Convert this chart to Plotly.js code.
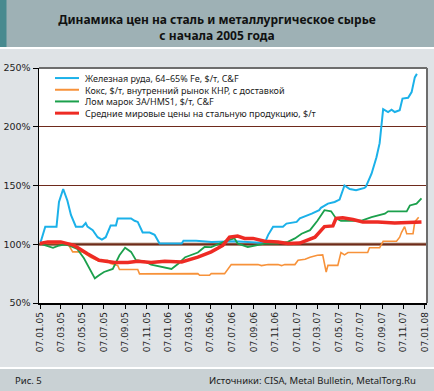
<!DOCTYPE html>
<html><head><meta charset="utf-8">
<script src="https://cdn.plot.ly/plotly-3.0.1.min.js"></script>
<style>html,body{margin:0;padding:0;background:#dfe3e6;}#chart{width:434px;height:391px;}</style>
</head><body><div id="chart"></div>
<script>
// ---- data ----
const oreDates = ['2005-01-07','2005-01-10','2005-01-22','2005-02-23','2005-03-02','2005-03-14','2005-03-26','2005-04-05','2005-04-19','2005-05-08','2005-05-17','2005-05-22','2005-06-06','2005-06-20','2005-07-02','2005-07-13','2005-07-27','2005-08-11','2005-08-16','2005-09-23','2005-10-03','2005-10-12','2005-10-26','2005-11-15','2005-11-29','2005-12-13','2006-02-14','2006-02-19','2006-03-27','2006-05-10','2006-07-15','2006-10-08','2006-10-18','2006-11-01','2006-11-29','2006-12-09','2007-01-07','2007-01-16','2007-02-19','2007-03-12','2007-03-17','2007-04-06','2007-04-25','2007-05-09','2007-05-23','2007-06-07','2007-06-25','2007-07-19','2007-07-23','2007-08-08','2007-08-22','2007-08-31','2007-09-10','2007-09-24','2007-10-04','2007-10-13','2007-10-27','2007-11-04','2007-11-20','2007-11-30','2007-12-09','2007-12-15'];
const oreValues = [102,103,115,115,136,147,137,125,115,115,118,115,112,106,104,106,116,116,122,122,120,119,110,110,108,100.6,100.6,103,103,102,102.5,101,108,115,115,117.6,119,122,126,129,131,134.6,136,138,150,147,146,148,149,160,174,186,215,212.5,214.5,212.5,214,224,224.7,229.5,242,245];

const cokeDates = ['2005-01-07','2005-03-21','2005-03-30','2005-04-10','2005-05-08','2005-05-22','2005-05-31','2005-06-24','2005-07-18','2005-07-27','2005-08-16','2005-08-21','2005-10-12','2005-10-17','2006-04-01','2006-04-06','2006-05-04','2006-05-09','2006-06-16','2006-07-05','2006-09-19','2006-09-29','2006-10-18','2006-11-15','2006-11-25','2006-12-04','2007-01-02','2007-01-11','2007-01-31','2007-02-14','2007-03-07','2007-03-22','2007-04-01','2007-04-06','2007-05-04','2007-05-13','2007-05-23','2007-06-02','2007-07-28','2007-08-02','2007-08-31','2007-09-10','2007-10-18','2007-10-27','2007-11-01','2007-11-10','2007-11-16','2007-12-04','2007-12-09','2007-12-20'];
const cokeValues = [100.6,100.6,99,93.5,93.5,90.6,89,85.5,86.4,83.6,82,78.5,78.5,74.8,75,73.6,73.6,75,75,82.7,82.7,81.8,82.7,82.7,81.8,82.7,82.7,86.4,87.2,89,90.6,91,76.4,82,82,93,91,93,93,97,97,102.5,102.5,106,110,115,109,109,119,123];

const scrapDates = ['2005-01-07','2005-01-29','2005-02-13','2005-02-27','2005-03-16','2005-03-30','2005-04-23','2005-05-12','2005-05-31','2005-06-12','2005-06-24','2005-07-08','2005-08-02','2005-08-11','2005-08-21','2005-09-06','2005-09-23','2005-10-07','2005-10-31','2005-11-19','2005-12-17','2006-01-16','2006-02-05','2006-02-24','2006-04-01','2006-04-20','2006-05-09','2006-05-27','2006-06-21','2006-07-14','2006-07-23','2006-08-21','2006-09-10','2006-10-08','2006-11-15','2006-12-13','2007-01-02','2007-01-21','2007-02-14','2007-03-07','2007-03-27','2007-04-15','2007-04-29','2007-05-13','2007-07-09','2007-08-08','2007-09-15','2007-09-24','2007-11-16','2007-11-25','2007-12-14','2007-12-28'];
const scrapValues = [100.6,98.6,97,98.6,99.7,99,96,88,78,71,73.6,76.4,79,85,90.6,97,93.5,86.4,85.5,82.7,80.7,79,83.6,89,93,97.7,97.5,99.7,103,105,100.6,97.7,99,100.6,100.6,102,105,109,112,120,129,128,122,120,120,123,126,128,128,133,134.6,139];

const steelDates = ['2005-01-07','2005-01-29','2005-03-07','2005-04-14','2005-05-22','2005-06-10','2005-06-24','2005-08-07','2005-09-14','2005-10-12','2005-11-19','2005-12-28','2006-01-20','2006-02-14','2006-04-01','2006-05-09','2006-06-11','2006-06-30','2006-07-23','2006-08-12','2006-09-05','2006-10-08','2006-11-15','2006-12-13','2007-01-16','2007-01-31','2007-02-28','2007-03-27','2007-04-20','2007-04-29','2007-05-18','2007-06-16','2007-07-14','2007-08-26','2007-10-13','2007-12-28'];
const steelValues = [100.6,102,102,99,92,89,86.4,84.4,84.4,85.5,84.4,85.5,85,85,89,93.5,99,106,107,105,105,102.5,102,100.6,101,103,106,115,115.6,122,122.5,121,119,119,118,119];

const seriesNames = ['Железная руда, 64–65% Fe, $/т, C&F','Кокс, $/т, внутренний рынок КНР, с доставкой','Лом марок 3А/HMS1, $/т, C&F','Средние мировые цены на стальную продукцию, $/т'];
const yTicks = [50,100,150,200,250];
const yTickLabels = ['50%','100%','150%','200%','250%'];
const titleText = 'Динамика цен на сталь и металлургическое сырье<br>с начала 2005 года';
const figLabel = 'Рис. 5';
const sourceText = 'Источники: CISA, Metal Bulletin, MetalTorg.Ru';

// ---- styles ----
const colors = ['#1bb1e9','#f7923a','#1ba04c','#ee2b24'];
const widths = [2,1.6,1.8,3.5];
const W = 434, H = 391, L = 39, R = 7, T = 68, B = 88;
const pw = W - L - R, ph = H - T - B;
const px = x => (x - L) / pw;
const py = y => (H - B - y) / ph;

const traces = [
  {x: oreDates, y: oreValues}, {x: cokeDates, y: cokeValues},
  {x: scrapDates, y: scrapValues}, {x: steelDates, y: steelValues}
].map((d, i) => ({x: d.x, y: d.y, type: 'scatter', mode: 'lines', name: seriesNames[i],
  line: {color: colors[i], width: widths[i], shape: 'linear'}, hoverinfo: 'skip'}));

const legFont = 9, legStep = legFont * 1.3, legCenter = 95.6;
const legRowsY = [0,1,2,3].map(k => legCenter + (k - 1.5) * legStep);
const shapes = [
  {type:'rect', xref:'paper', yref:'paper', x0:-1, x1:2, y0:py(47), y1:2, fillcolor:'#9eb1b5', line:{width:0}, layer:'below'},
  {type:'rect', xref:'paper', yref:'paper', x0:-1, x1:px(6.5), y0:py(47), y1:2, fillcolor:'#488a8f', line:{width:0}, layer:'below'},
  {type:'rect', xref:'paper', yref:'paper', x0:-1, x1:2, y0:py(49), y1:py(47), fillcolor:'#ffffff', line:{width:0}, layer:'below'},
  {type:'rect', xref:'paper', yref:'paper', x0:-1, x1:2, y0:py(369), y1:py(367), fillcolor:'#ffffff', line:{width:0}, layer:'below'},
  {type:'rect', xref:'paper', yref:'paper', x0:-1, x1:2, y0:-2, y1:py(369), fillcolor:'#c9d1d4', line:{width:0}, layer:'below'},
  {type:'line', xref:'paper', yref:'y', x0:0, x1:1, y0:100, y1:100, line:{color:'#8b5a45', width:3}, layer:'below'},
  {type:'line', xref:'paper', yref:'paper', x0:0, x1:1, y0:1, y1:1, line:{color:'#6d6d6d', width:2}, layer:'above'},
  {type:'line', xref:'paper', yref:'paper', x0:1, x1:1, y0:0, y1:1, line:{color:'#6d6d6d', width:2}, layer:'above'}
];
legRowsY.forEach((yy, i) => {
  shapes.push({type:'line', xref:'paper', yref:'paper', x0:px(55), x1:px(79), y0:py(yy), y1:py(yy),
    line:{color:colors[i], width: i===3 ? 3 : 2}, layer:'above'});
});
const annotations = [
  {xref:'paper', yref:'paper', x:px(83.5), y:py(legCenter), xanchor:'left', yanchor:'middle', align:'left',
    text: seriesNames.join('<br>'), showarrow:false, borderpad:0, font:{family:'Noto Sans', size:legFont, color:'#1a1a1a'}},
  {xref:'paper', yref:'paper', x:px(13), y:py(380), xanchor:'left', yanchor:'middle',
    text: figLabel, showarrow:false, font:{family:'Noto Sans', size:9.5, color:'#1a1a1a'}},
  {xref:'paper', yref:'paper', x:px(418), y:py(380), xanchor:'right', yanchor:'middle',
    text: sourceText, showarrow:false, font:{family:'Noto Sans', size:9.5, color:'#1a1a1a'}}
];

const layout = {
  width: W, height: H,
  margin: {l: L, r: R, t: T, b: B, pad: 0},
  paper_bgcolor: '#dfe3e6', plot_bgcolor: '#ffffff',
  showlegend: false,
  title: {text: titleText, x: 0.5, xanchor: 'center', xref: 'container', y: 1 - 24/391, yref: 'container', yanchor: 'middle',
    font: {family: 'Noto Sans', size: 12, weight: 'bold', color: '#111'}},
  xaxis: {type: 'date', range: ['2005-01-04 04:00', '2008-01-12 17:00'],
    tick0: '2005-01-07', dtick: 'M2', tickformat: '%d.%m.%y', tickangle: -90,
    showline: true, linecolor: '#000', linewidth: 1.5, ticks: 'outside', ticklen: 4, tickcolor: '#000', tickwidth: 1,
    showgrid: false, zeroline: false, fixedrange: true,
    tickfont: {family: 'DejaVu Sans', size: 9, color: '#222'}},
  yaxis: {range: [50, 250], tickmode: 'array', tickvals: yTicks, ticktext: yTickLabels,
    showline: true, linecolor: '#000', linewidth: 1.5, ticks: 'outside', ticklen: 5, tickcolor: '#000', tickwidth: 1,
    showgrid: true, gridcolor: '#6e2a1c', gridwidth: 1, zeroline: false, fixedrange: true,
    tickfont: {family: 'DejaVu Sans', size: 9.5, color: '#222'}},
  shapes: shapes, annotations: annotations
};
Plotly.newPlot('chart', traces, layout, {displayModeBar: false, staticPlot: true});
</script></body></html>
